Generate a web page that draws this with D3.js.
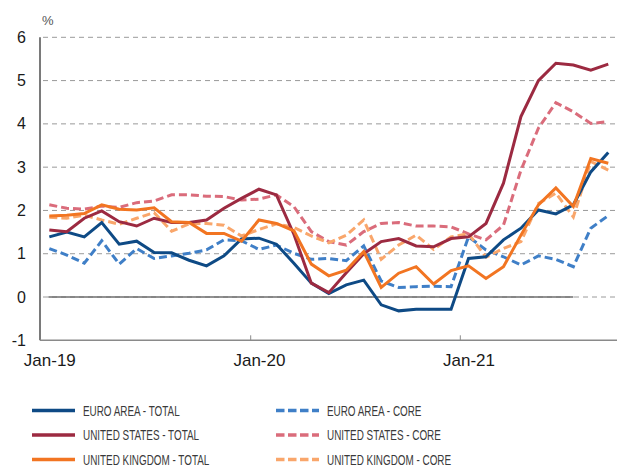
<!DOCTYPE html>
<html lang="en">
<head>
<meta charset="UTF-8">
<title>Inflation</title>
<script src="https://d3js.org/d3.v7.min.js"></script>
<style>
  body { margin: 0; background: #fff; }
  svg { display: block; font-family: "Liberation Sans", Arial, sans-serif; }
</style>
</head>
<body>
<script>

var w = 621, h = 467;

var months = ["Jan-19","Feb-19","Mar-19","Apr-19","May-19","Jun-19","Jul-19","Aug-19","Sep-19","Oct-19","Nov-19","Dec-19",
              "Jan-20","Feb-20","Mar-20","Apr-20","May-20","Jun-20","Jul-20","Aug-20","Sep-20","Oct-20","Nov-20","Dec-20",
              "Jan-21","Feb-21","Mar-21","Apr-21","May-21","Jun-21","Jul-21","Aug-21","Sep-21"];

var euroTotal = [1.39,1.50,1.39,1.72,1.22,1.29,1.03,1.02,0.85,0.72,0.95,1.34,1.36,1.22,0.78,0.32,0.08,0.28,0.39,-0.18,-0.32,-0.28,-0.28,-0.28,0.89,0.93,1.32,1.59,2.01,1.92,2.13,2.89,3.34];
var euroCore  = [1.12,0.97,0.78,1.30,0.76,1.12,0.89,0.95,1.01,1.09,1.32,1.30,1.10,1.20,1.01,0.87,0.89,0.84,1.18,0.37,0.22,0.24,0.25,0.24,1.39,1.09,0.93,0.74,0.95,0.87,0.70,1.59,1.88];
var usTotal   = [1.55,1.51,1.82,1.99,1.74,1.64,1.82,1.72,1.72,1.78,2.05,2.28,2.49,2.36,1.45,0.32,0.10,0.56,1.00,1.28,1.35,1.18,1.16,1.35,1.39,1.70,2.63,4.17,5.00,5.40,5.36,5.24,5.38];
var usCore    = [2.13,2.05,2.03,2.10,2.07,2.18,2.22,2.36,2.36,2.33,2.32,2.24,2.26,2.36,2.09,1.51,1.28,1.20,1.51,1.70,1.72,1.64,1.64,1.62,1.46,1.32,1.66,2.93,3.90,4.49,4.28,4.01,4.05];
var ukTotal   = [1.87,1.89,1.93,2.13,2.03,2.01,2.06,1.74,1.72,1.47,1.47,1.29,1.78,1.70,1.53,0.76,0.49,0.62,1.05,0.22,0.55,0.70,0.30,0.61,0.72,0.43,0.70,1.43,2.13,2.52,2.09,3.20,3.09];
var ukCore    = [1.84,1.82,1.89,1.78,1.68,1.82,1.95,1.52,1.69,1.70,1.66,1.41,1.56,1.69,1.61,1.41,1.25,1.43,1.78,0.87,1.20,1.43,1.10,1.39,1.46,0.92,1.12,1.28,2.16,2.40,1.85,3.13,2.93];

var yTicks = [-1,0,1,2,3,4,5,6];
var xLabels = ["Jan-19","Jan-20","Jan-21"];
var zeroLineEnd = "Jul-21";

var series = [
  {name: "EURO AREA - CORE",       values: euroCore,  color: "#3f7fc7", dash: true},
  {name: "UNITED STATES - CORE",   values: usCore,    color: "#da6c7b", dash: true},
  {name: "UNITED KINGDOM - CORE",  values: ukCore,    color: "#f9a66b", dash: true},
  {name: "EURO AREA - TOTAL",      values: euroTotal, color: "#0e4a85", dash: false},
  {name: "UNITED STATES - TOTAL",  values: usTotal,   color: "#9c2a41", dash: false},
  {name: "UNITED KINGDOM - TOTAL", values: ukTotal,   color: "#f27522", dash: false}
];

var svg = d3.select("body").append("svg").attr("width", w).attr("height", h);

var x = d3.scaleLinear().domain([-0.5, months.length - 0.5]).range([40.6, 617]);
var y = d3.scaleLinear().domain([-1, 6]).range([340.3, 37.3]);

// gridlines
svg.append("g").selectAll("line").data(yTicks.filter(function(d){ return d > -1; })).enter().append("line")
  .attr("x1", 43).attr("x2", 617)
  .attr("y1", function(d){ return y(d); }).attr("y2", function(d){ return y(d); })
  .attr("stroke", "#9a9a9a").attr("stroke-width", 1).attr("stroke-dasharray", "5,4");

// solid zero line
svg.append("line")
  .attr("x1", x(0) - 1).attr("x2", x(months.indexOf(zeroLineEnd)))
  .attr("y1", y(0)).attr("y2", y(0))
  .attr("stroke", "#6e6e6e").attr("stroke-width", 1.3);

// y axis
var yAxis = svg.append("g").attr("transform", "translate(40,0)")
  .call(d3.axisLeft(y).tickValues(yTicks).tickFormat(String).tickSize(0).tickPadding(14));
yAxis.select(".domain").remove();
yAxis.selectAll("text").attr("font-size", 16).attr("fill", "#1a1a1a")
  .attr("font-family", "'Liberation Sans', Arial, sans-serif");

svg.append("line").attr("x1", 40).attr("x2", 40).attr("y1", y(6)).attr("y2", y(-1))
  .attr("stroke", "#7a7a7a").attr("stroke-width", 2);

// x axis
var xAxis = svg.append("g").attr("transform", "translate(0," + y(-1) + ")")
  .call(d3.axisBottom(x).tickValues(xLabels.map(function(d){ return months.indexOf(d); }))
    .tickFormat(function(i){ return months[i]; }).tickSize(0).tickPadding(14));
xAxis.select(".domain").remove();
xAxis.selectAll("text").attr("font-size", 17).attr("fill", "#1a1a1a")
  .attr("font-family", "'Liberation Sans', Arial, sans-serif");

var xTicks = svg.append("g").attr("transform", "translate(0," + y(-1) + ")")
  .call(d3.axisBottom(x).tickValues(xLabels.slice(1).map(function(d){ return months.indexOf(d) - 0.5; }))
    .tickFormat("").tickSize(-5));
xTicks.select(".domain").remove();
xTicks.selectAll("line").attr("stroke", "#8a8a8a");

svg.append("line").attr("x1", 40).attr("x2", 617).attr("y1", y(-1)).attr("y2", y(-1))
  .attr("stroke", "#8a8a8a").attr("stroke-width", 1.5);

svg.append("text").attr("x", 42).attr("y", 25).text("%")
  .attr("font-size", 13).attr("fill", "#555");

// lines
var line = d3.line().x(function(d, i){ return x(i); }).y(function(d){ return y(d); });

svg.append("g").selectAll("path").data(series).enter().append("path")
  .attr("d", function(d){ return line(d.values); })
  .attr("fill", "none")
  .attr("stroke", function(d){ return d.color; })
  .attr("stroke-width", 3)
  .attr("stroke-linejoin", "miter")
  .attr("stroke-dasharray", function(d){ return d.dash ? "8,4" : null; });

// legend
var legendOrder = ["EURO AREA - TOTAL","EURO AREA - CORE","UNITED STATES - TOTAL","UNITED STATES - CORE","UNITED KINGDOM - TOTAL","UNITED KINGDOM - CORE"];
var legend = svg.append("g").selectAll("g")
  .data(legendOrder.map(function(n){ return series.find(function(s){ return s.name === n; }); }))
  .enter().append("g")
  .attr("transform", function(d, i){ return "translate(" + (i % 2 ? 276 : 32) + "," + (410.5 + Math.floor(i / 2) * 24.5) + ")"; });

legend.append("line").attr("x1", 0).attr("x2", 43).attr("y1", 0).attr("y2", 0)
  .attr("stroke", function(d){ return d.color; }).attr("stroke-width", 3.5)
  .attr("stroke-dasharray", function(d){ return d.dash ? "8.5,3.5" : null; });

legend.append("text")
  .attr("transform", "translate(51,5) scale(0.66,1)")
  .attr("font-size", 15).attr("fill", "#3a3a3a")
  .text(function(d){ return d.name; });

</script>
</body>
</html>
